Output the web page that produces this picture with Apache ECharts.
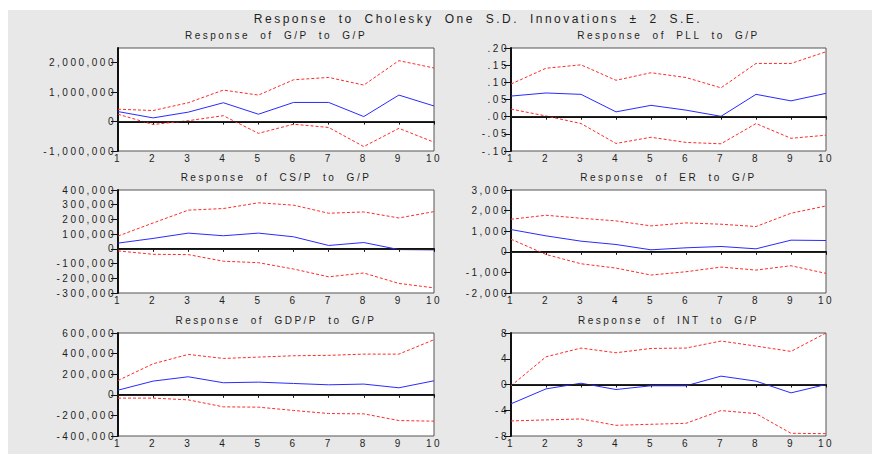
<!doctype html>
<html lang="en">
<head>
    <meta charset="UTF-8">
    <title>Response to Cholesky One S.D. Innovations</title>
    <script src="https://cdn.jsdelivr.net/npm/echarts@6.0.0/dist/echarts.min.js"></script>
    <style>
        html, body { margin: 0; padding: 0; background: #fff; }
        /* svg text inherits the spacing, EViews-like wide glyphs */
        #irf_echart { position: absolute; left: 8px; top: 10px; width: 864px; height: 444px;
                      letter-spacing: 2.5px; word-spacing: 5px; }
    </style>
</head>
<body>
<div id="irf_echart"></div>
<script type="text/javascript">
/* 1. data */
const periods = ['1', '2', '3', '4', '5', '6', '7', '8', '9', '10'];

// G/P
const gpResp  = [340000, 125000, 320000, 640000, 250000, 650000, 650000, 170000, 900000, 530000];
const gpUpper = [420000, 375000, 640000, 1070000, 900000, 1420000, 1500000, 1240000, 2070000, 1820000];
const gpLower = [250000, -100000, 30000, 200000, -400000, -90000, -200000, -850000, -230000, -700000];
// PLL
const pllResp  = [0.060, 0.069, 0.065, 0.014, 0.033, 0.019, 0.001, 0.065, 0.046, 0.068];
const pllUpper = [0.095, 0.141, 0.151, 0.106, 0.128, 0.114, 0.084, 0.155, 0.155, 0.189];
const pllLower = [0.022, 0.002, -0.020, -0.078, -0.060, -0.075, -0.079, -0.020, -0.063, -0.054];
// CS/P
const csResp  = [39000, 71000, 107000, 89000, 107000, 82000, 23000, 43000, -5000, -7000];
const csUpper = [87000, 176000, 263000, 274000, 313000, 297000, 242000, 251000, 210000, 253000];
const csLower = [-14000, -37000, -39000, -84000, -94000, -137000, -190000, -164000, -235000, -265000];
// ER
const erResp  = [1080, 774, 516, 355, 97, 194, 258, 145, 565, 548];
const erUpper = [1580, 1774, 1629, 1500, 1258, 1403, 1339, 1226, 1871, 2226];
const erLower = [613, -129, -581, -790, -1129, -968, -742, -887, -677, -1048];
// GDP/P
const gdpResp  = [45000, 133000, 175000, 117000, 123000, 110000, 97000, 104000, 68000, 136000];
const gdpUpper = [139000, 301000, 392000, 353000, 366000, 379000, 383000, 395000, 395000, 535000];
const gdpLower = [-32000, -32000, -49000, -117000, -120000, -152000, -182000, -185000, -250000, -256000];
// INT
const intResp  = [-3.0, -0.68, 0.2, -0.78, -0.2, -0.2, 1.3, 0.52, -1.3, 0.0];
const intUpper = [-0.2, 4.3, 5.66, 4.93, 5.6, 5.66, 6.75, 5.97, 5.14, 8.0];
const intLower = [-5.66, -5.5, -5.35, -6.34, -6.18, -6.03, -4.05, -4.52, -7.58, -7.64];

/* y tick values */
const gpTicks  = [-1000000, 0, 1000000, 2000000];
const pllTicks = [-0.10, -0.05, 0.00, 0.05, 0.10, 0.15, 0.20];
const csTicks  = [-300000, -200000, -100000, 0, 100000, 200000, 300000, 400000];
const erTicks  = [-2000, -1000, 0, 1000, 2000, 3000];
const gdpTicks = [-400000, -200000, 0, 200000, 400000, 600000];
const intTicks = [-8, -4, 0, 4, 8];

/* 2. panels */
const fmtComma = v => Math.round(v).toLocaleString('en-US');
const fmtDec = v => {
    let s = Math.abs(v).toFixed(2).replace(/^0/, '');
    return (v < -1e-9 ? '-' : '') + s;
};

const panels = [
    {title: 'Response of G/P to G/P',   resp: gpResp,  up: gpUpper,  lo: gpLower,  ticks: gpTicks,  min: -1000000, max: 2500000, fmt: fmtComma},
    {title: 'Response of PLL to G/P',   resp: pllResp, up: pllUpper, lo: pllLower, ticks: pllTicks, min: -0.10, max: 0.20, fmt: fmtDec},
    {title: 'Response of CS/P to G/P',  resp: csResp,  up: csUpper,  lo: csLower,  ticks: csTicks,  min: -300000, max: 400000, fmt: fmtComma},
    {title: 'Response of ER to G/P',    resp: erResp,  up: erUpper,  lo: erLower,  ticks: erTicks,  min: -2000, max: 3000, fmt: fmtComma},
    {title: 'Response of GDP/P to G/P', resp: gdpResp, up: gdpUpper, lo: gdpLower, ticks: gdpTicks, min: -400000, max: 600000, fmt: fmtComma},
    {title: 'Response of INT to G/P',   resp: intResp, up: intUpper, lo: intLower, ticks: intTicks, min: -8, max: 8, fmt: v => String(v)}
];

const colLeft = [110, 503];
const colWidth = [316, 315];
const rowTop = [38, 180, 323];
const plotH = 103;
const titleY = [25, 167, 310];

const textFont = 'Liberation Sans, Arial, sans-serif';
const textColor = '#1e1e1e';

let grids = [], xAxes = [], yAxes = [], series = [], graphics = [];

graphics.push({
    type: 'text', x: 470, y: 9,
    style: {text: 'Response to Cholesky One S.D. Innovations \u00b1 2 S.E.', font: '12px ' + textFont,
            fill: textColor, align: 'center', verticalAlign: 'middle'}
});

panels.forEach(function (p, i) {
    let c = i % 2, r = Math.floor(i / 2);
    grids.push({
        left: colLeft[c], top: rowTop[r], width: colWidth[c], height: plotH,
        show: true, backgroundColor: '#fff', borderColor: '#555', borderWidth: 1
    });
    graphics.push({
        type: 'text', x: colLeft[c] + colWidth[c] / 2, y: titleY[r],
        style: {text: p.title, font: '10px ' + textFont, fill: textColor, align: 'center', verticalAlign: 'middle'}
    });
    xAxes.push({
        gridIndex: i, type: 'category', data: periods, boundaryGap: false,
        axisLine: {lineStyle: {color: '#111', width: 2}},
        axisTick: {length: 3, lineStyle: {color: '#111'}},
        axisLabel: {margin: 2, fontSize: 10, color: textColor, fontFamily: textFont},
        splitLine: {show: false}
    });
    yAxes.push({
        gridIndex: i, type: 'value', min: p.min, max: p.max,
        axisLine: {show: true, lineStyle: {color: '#111', width: 2}},
        axisTick: {show: true, length: 7, customValues: p.ticks, lineStyle: {color: '#111'}},
        axisLabel: {customValues: p.ticks, formatter: p.fmt, margin: 2, fontSize: 10, color: textColor, fontFamily: textFont},
        splitLine: {show: false}
    });
    series.push({
        type: 'line', xAxisIndex: i, yAxisIndex: i, data: p.resp,
        symbol: 'none', lineStyle: {color: '#2a2aff', width: 1},
        markLine: {
            silent: true, symbol: 'none', label: {show: false},
            lineStyle: {color: '#222', width: 1, type: 'solid'},
            data: [{yAxis: 0}]
        }
    });
    series.push({
        type: 'line', xAxisIndex: i, yAxisIndex: i, data: p.up,
        symbol: 'none', lineStyle: {color: '#ff2a2a', width: 1, type: [3, 2]}
    });
    series.push({
        type: 'line', xAxisIndex: i, yAxisIndex: i, data: p.lo,
        symbol: 'none', lineStyle: {color: '#ff2a2a', width: 1, type: [3, 2]}
    });
});

/* 3. chart */
let irf_echart = echarts.init(document.getElementById('irf_echart'), null, {renderer: 'svg'});
irf_echart.setOption({
    backgroundColor: '#e8e8e8',
    animation: false,
    grid: grids,
    xAxis: xAxes,
    yAxis: yAxes,
    series: series,
    graphic: graphics
});

window.addEventListener('resize', irf_echart.resize);
</script>
</body>
</html>
